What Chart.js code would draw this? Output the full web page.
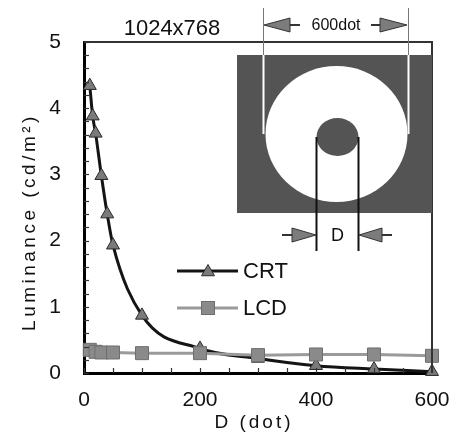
<!DOCTYPE html>
<html><head><meta charset="utf-8">
<script src="https://cdn.jsdelivr.net/npm/chart.js@4/dist/chart.umd.min.js"></script>
<style>html,body{margin:0;padding:0;background:#fff}canvas{display:block}</style>
</head><body>
<canvas id="c" width="450" height="448"></canvas>
<script>
// ---- data ----
const crtD   = [10, 15, 20, 30, 40, 50, 100, 200, 300, 400, 500, 600];
const crtLum = [4.34, 3.88, 3.62, 2.98, 2.40, 1.93, 0.87, 0.37, 0.22, 0.11, 0.06, 0.02];
const lcdD   = [10, 20, 30, 50, 100, 200, 300, 400, 500, 600];
const lcdLum = [0.35, 0.32, 0.31, 0.31, 0.30, 0.30, 0.27, 0.28, 0.28, 0.26];
const xMajorTicks = [0, 200, 400, 600];
const yMajorTicks = [0, 1, 2, 3, 4, 5];
const seriesNames = ['CRT', 'LCD'];
const chartTitle = '1024x768';
const xTitle = 'D (dot)';
const yTitle = 'Luminance (cd/m\u00B2)';
const insetWidthLabel = '600dot';
const insetDLabel = 'D';

const FONT = "'Liberation Sans', Arial, sans-serif";
const CRT_LINE = '#141414', CRT_FILL = '#7a7a7a', CRT_EDGE = '#2a2a2a';
const LCD_LINE = '#9a9a9a', LCD_FILL = '#8a8a8a', LCD_EDGE = '#6e6e6e';

function toXY(xs, ys) { return xs.map((x, i) => ({ x: x, y: ys[i] })); }

function triangle(ctx, x, y, r, fill, edge) {
  ctx.beginPath();
  for (let k = 0; k < 3; k++) {
    const a = k * 2 * Math.PI / 3;
    const px = x + Math.sin(a) * r, py = y - Math.cos(a) * r;
    k ? ctx.lineTo(px, py) : ctx.moveTo(px, py);
  }
  ctx.closePath();
  ctx.fillStyle = fill; ctx.fill();
  ctx.strokeStyle = edge; ctx.lineWidth = 1; ctx.stroke();
}
function arrowHead(ctx, tipX, baseX, y, half) {
  ctx.beginPath();
  ctx.moveTo(tipX, y); ctx.lineTo(baseX, y - half); ctx.lineTo(baseX, y + half); ctx.closePath();
  ctx.fillStyle = '#7c7c7c'; ctx.fill();
  ctx.strokeStyle = '#333'; ctx.lineWidth = 1; ctx.stroke();
}
function hline(ctx, x1, x2, y, w, c) {
  ctx.beginPath(); ctx.moveTo(x1, y); ctx.lineTo(x2, y);
  ctx.lineWidth = w; ctx.strokeStyle = c; ctx.stroke();
}
function vline(ctx, x, y1, y2, w, c) {
  ctx.beginPath(); ctx.moveTo(x, y1); ctx.lineTo(x, y2);
  ctx.lineWidth = w; ctx.strokeStyle = c; ctx.stroke();
}

const decor = {
  id: 'decor',
  afterDraw(chart) {
    const ctx = chart.ctx, ca = chart.chartArea;
    const xs = chart.scales.x, ys = chart.scales.y;
    ctx.save();
    // top & right frame
    hline(ctx, ca.left, ca.right + 1, ca.top, 2, '#333');
    vline(ctx, ca.right, ca.top, ca.bottom, 2, '#333');
    // inward ticks
    ys.ticks.forEach(t => {
      const py = Math.round(ys.getPixelForValue(t.value)) + 0.5;
      hline(ctx, ca.left, ca.left + 5, py, 1.2, '#333');
    });
    xs.ticks.forEach(t => {
      const px = Math.round(xs.getPixelForValue(t.value)) + 0.5;
      vline(ctx, px, ca.bottom, ca.bottom - 5, 1.2, '#333');
    });

    // ---- inset diagram ----
    ctx.fillStyle = '#545454';
    ctx.fillRect(237, 55, ca.right - 237, 158);
    ctx.beginPath(); ctx.ellipse(336.5, 134, 71, 68, 0, 0, 2 * Math.PI);
    ctx.fillStyle = '#fff'; ctx.fill();
    ctx.beginPath(); ctx.ellipse(337.5, 137, 21, 19, 0, 0, 2 * Math.PI);
    ctx.fillStyle = '#545454'; ctx.fill();
    vline(ctx, 316.5, 137, 251, 2, '#111');
    vline(ctx, 358.5, 137, 251, 2, '#111');
    // 600dot guides
    [263.5, 408.5].forEach(x => {
      vline(ctx, x, 8, 55, 1, '#777');
      vline(ctx, x, 55, 134, 2, '#fff');
    });
    hline(ctx, 289, 300, 25, 2, '#333');
    arrowHead(ctx, 264, 290, 25, 7);
    hline(ctx, 371, 381, 25, 2, '#333');
    arrowHead(ctx, 407, 380, 25, 7);
    ctx.fillStyle = '#111';
    ctx.font = '16px ' + FONT; ctx.textAlign = 'center'; ctx.textBaseline = 'middle';
    ctx.fillText(insetWidthLabel, 336, 26);
    // D arrows
    hline(ctx, 282, 293, 235, 2, '#333');
    arrowHead(ctx, 316, 292, 235, 7);
    hline(ctx, 381, 392, 235, 2, '#333');
    arrowHead(ctx, 359, 382, 235, 7);
    ctx.fillStyle = '#111';
    ctx.font = '18px ' + FONT;
    ctx.fillText(insetDLabel, 337.5, 236);

    // ---- legend ----
    const dsC = chart.data.datasets[0], dsL = chart.data.datasets[1];
    hline(ctx, 177, 238, 271, 3, dsC.borderColor);
    triangle(ctx, 208, 272, 7.5, dsC.pointBackgroundColor, dsC.pointBorderColor);
    hline(ctx, 177, 238, 308, 3, dsL.borderColor);
    ctx.fillStyle = dsL.pointBackgroundColor; ctx.fillRect(201.5, 301.5, 13, 13);
    ctx.strokeStyle = dsL.pointBorderColor; ctx.lineWidth = 1; ctx.strokeRect(201.5, 301.5, 13, 13);
    ctx.fillStyle = '#111'; ctx.font = '22px ' + FONT;
    ctx.textAlign = 'left'; ctx.textBaseline = 'middle';
    ctx.fillText(dsC.label, 243, 272);
    ctx.fillText(dsL.label, 243, 309);

    // ---- title ----
    ctx.textAlign = 'center'; ctx.textBaseline = 'alphabetic';
    ctx.font = '22px ' + FONT;
    ctx.fillText(chartTitle, 172, 35);

    // ---- axis titles ----
    ctx.font = '19px ' + FONT;
    try { ctx.letterSpacing = '3px'; } catch (e) {}
    ctx.fillText(xTitle, 254, 428);
    try { ctx.letterSpacing = '3.5px'; } catch (e) {}
    ctx.save();
    ctx.translate(35, 222); ctx.rotate(-Math.PI / 2);
    ctx.textAlign = 'center'; ctx.textBaseline = 'alphabetic';
    ctx.fillText(yTitle, 0, 0);
    ctx.restore();
    try { ctx.letterSpacing = '0px'; } catch (e) {}
    ctx.restore();
  }
};

new Chart(document.getElementById('c'), {
  type: 'scatter',
  data: {
    datasets: [
      {
        label: seriesNames[0], data: toXY(crtD, crtLum), showLine: true, order: 2,
        borderColor: CRT_LINE, borderWidth: 3, cubicInterpolationMode: 'monotone',
        pointStyle: 'triangle', pointRadius: 7.5, pointHoverRadius: 7.5,
        pointBackgroundColor: CRT_FILL, pointBorderColor: CRT_EDGE, pointBorderWidth: 1,
        clip: 12
      },
      {
        label: seriesNames[1], data: toXY(lcdD, lcdLum), showLine: true, order: 1,
        borderColor: LCD_LINE, borderWidth: 3, tension: 0,
        pointStyle: 'rect', pointRadius: 9.2, pointHoverRadius: 9.2,
        pointBackgroundColor: LCD_FILL, pointBorderColor: LCD_EDGE, pointBorderWidth: 1,
        clip: 12
      }
    ]
  },
  options: {
    responsive: false, animation: false, devicePixelRatio: 1,
    layout: { padding: { left: 0, right: 18, top: 42, bottom: 0 } },
    plugins: { legend: { display: false }, tooltip: { enabled: false }, title: { display: false } },
    scales: {
      x: {
        type: 'linear', min: 0, max: 600,
        grid: { drawOnChartArea: false, drawTicks: false },
        border: { display: true, color: '#000', width: 3 },
        ticks: {
          stepSize: 50, autoSkip: false, maxRotation: 0, padding: 15,
          color: '#111', font: { family: FONT, size: 21 },
          callback: v => xMajorTicks.includes(v) ? String(v) : ''
        },
        afterFit: s => { s.height = 75; s.paddingLeft = 0; s.paddingRight = 0; }
      },
      y: {
        type: 'linear', min: 0, max: 5,
        grid: { drawOnChartArea: false, drawTicks: false },
        border: { display: true, color: '#000', width: 3 },
        ticks: {
          stepSize: 0.2, autoSkip: false, padding: 23,
          color: '#111', font: { family: FONT, size: 21 },
          callback: v => {
            const r = Math.round(v);
            return (Math.abs(v - r) < 1e-6 && yMajorTicks.includes(r)) ? String(r) : '';
          }
        },
        afterFit: s => { s.width = 84; s.paddingTop = 0; s.paddingBottom = 0; }
      }
    }
  },
  plugins: [decor]
});
</script>
</body></html>
